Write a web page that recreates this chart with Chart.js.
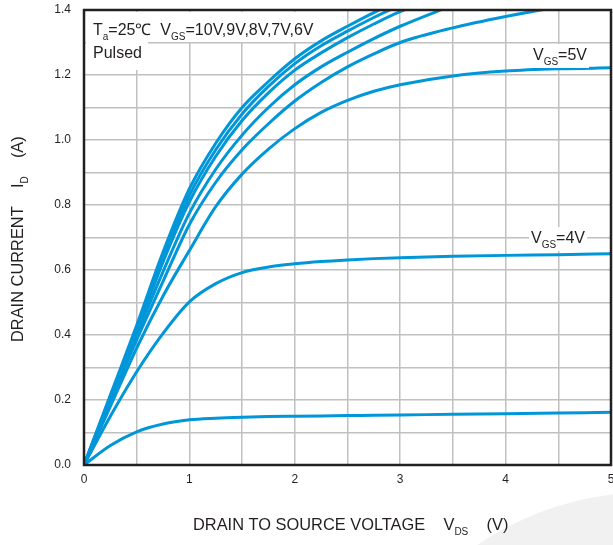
<!DOCTYPE html>
<html>
<head>
<meta charset="utf-8">
<script src="https://cdn.jsdelivr.net/npm/chart.js@4.4.1/dist/chart.umd.min.js"></script>
<style>
  html,body{margin:0;padding:0;background:#fff;}
  #wrap{width:613px;height:545px;position:relative;}
</style>
</head>
<body>
<div id="wrap"><canvas id="myChart" width="613" height="545"></canvas></div>
<script>
// drain voltage points (V)
const vds = [0, 0.25, 0.5, 0.75, 1, 1.25, 1.5, 1.75, 2, 2.25, 2.5, 2.75, 3, 3.5, 4, 4.5, 5];

// drain current (A) per gate voltage; curves above 1.4 run off the top
const id10 = [0, 0.215, 0.43, 0.655, 0.85, 0.99, 1.10, 1.18, 1.25, 1.305, 1.35, 1.392, 1.43];
const id9  = [0, 0.21, 0.42, 0.64, 0.83, 0.97, 1.08, 1.165, 1.235, 1.29, 1.335, 1.377, 1.415];
const id8  = [0, 0.205, 0.41, 0.625, 0.81, 0.95, 1.06, 1.145, 1.215, 1.268, 1.315, 1.357, 1.395, 1.45];
const id7  = [0, 0.20, 0.40, 0.595, 0.775, 0.91, 1.015, 1.10, 1.17, 1.225, 1.27, 1.312, 1.35, 1.415];
const id6  = [0, 0.195, 0.385, 0.565, 0.74, 0.87, 0.97, 1.05, 1.12, 1.177, 1.225, 1.265, 1.30, 1.345, 1.38, 1.41];
const id5  = [0, 0.18, 0.36, 0.52, 0.66, 0.795, 0.895, 0.972, 1.035, 1.085, 1.122, 1.15, 1.17, 1.197, 1.212, 1.219, 1.222];
const id4  = [0, 0.15, 0.287, 0.405, 0.502, 0.558, 0.592, 0.609, 0.619, 0.626, 0.631, 0.635, 0.638, 0.642, 0.645, 0.647, 0.65];
const id3  = [0, 0.06, 0.102, 0.126, 0.139, 0.144, 0.147, 0.149, 0.150, 0.151, 0.152, 0.153, 0.154, 0.156, 0.158, 0.160, 0.162];

const series = [id10, id9, id8, id7, id6, id5, id4, id3];

// texts: [text, subscript] pieces
const noteLine1 = [["T",""],["","a"],["=25\u2103  V",""],["","GS"],["=10V,9V,8V,7V,6V",""]];
const noteLine2 = [["Pulsed",""]];
const label5 = [["V",""],["","GS"],["=5V",""]];
const label4 = [["V",""],["","GS"],["=4V",""]];
const xTitle = [["DRAIN TO SOURCE VOLTAGE    V",""],["","DS"],["    (V)",""]];
const yTitle = [["DRAIN CURRENT    I",""],["","D"],["    (A)",""]];

const BLUE = '#0096d8';
const INK = '#231f20';
const FONT = '"Liberation Sans", Arial, sans-serif';

function toPts(arr){
    return arr.map((v,i)=>({x:vds[i],y:v}))
}

function richWidth(ctx, parts, size, subSize){
    let w=0
    for(const p of parts){
        ctx.font = size+'px '+FONT
        w+=ctx.measureText(p[0]).width
        ctx.font = subSize+'px '+FONT
        w+=ctx.measureText(p[1]).width
    }
    return w
}

function drawRich(ctx, parts, x, y, size, subSize, subDrop){
    ctx.textBaseline='alphabetic'
    ctx.textAlign='left'
    ctx.fillStyle=INK
    for(const p of parts){
        if(p[0]){
            ctx.font = size+'px '+FONT
            ctx.fillText(p[0],x,y)
            x+=ctx.measureText(p[0]).width
        }
        if(p[1]){
            ctx.font = subSize+'px '+FONT
            ctx.fillText(p[1],x,y+subDrop)
            x+=ctx.measureText(p[1]).width
        }
    }
}

function whiteBox(ctx,x,y,w,h){
    ctx.fillStyle='#fff'
    ctx.fillRect(x,y,w,h)
}

const decor = {
    id:'decor',
    beforeDraw(chart){
        const ctx=chart.ctx
        ctx.save()
        // faint watermark arc at bottom right
        ctx.fillStyle='#f1f1f1'
        ctx.beginPath()
        ctx.arc(650,800,308,0,Math.PI*2)
        ctx.fill()
        ctx.restore()
    },
    afterDraw(chart){
        const ctx=chart.ctx, a=chart.chartArea
        ctx.save()
        // frame
        ctx.strokeStyle=INK
        ctx.lineWidth=2.5
        ctx.strokeRect(a.left,a.top,a.right-a.left,a.bottom-a.top)

        // note at top-left
        let w1=richWidth(ctx,noteLine1,16,10)
        whiteBox(ctx,a.left+2,a.top+2,w1+10,30)
        whiteBox(ctx,a.left+2,a.top+2,62,58)
        drawRich(ctx,noteLine1,a.left+9,a.top+25,16,10,5)
        drawRich(ctx,noteLine2,a.left+9,a.top+48,16,10,5)

        // curve labels
        let w5=richWidth(ctx,label5,16,10)
        whiteBox(ctx,531,44,w5+4,24)
        drawRich(ctx,label5,533,60,16,10,5)
        let w4=richWidth(ctx,label4,16,10)
        whiteBox(ctx,529,227,w4+4,24)
        drawRich(ctx,label4,531,243,16,10,5)

        // axis titles
        drawRich(ctx,xTitle,193,530,16.4,10,5)
        ctx.translate(23,0)
        ctx.rotate(-Math.PI/2)
        drawRich(ctx,yTitle,-342,0,16.4,10,5)
        ctx.restore()
    }
};

const datasets = series.map(s=>({
    data:toPts(s),
    borderColor:BLUE,
    borderWidth:3,
    pointRadius:0,
    fill:false,
    cubicInterpolationMode:'monotone',
    clip:0
}))

new Chart(document.getElementById('myChart').getContext('2d'),{
    type:'line',
    data:{datasets:datasets},
    plugins:[decor],
    options:{
        responsive:false,
        animation:false,
        events:[],
        layout:{padding:{top:10,right:2,left:0,bottom:0}},
        plugins:{legend:{display:false},tooltip:{enabled:false}},
        scales:{
            x:{
                type:'linear',min:0,max:5,
                afterFit:s=>{s.height=80;s.paddingLeft=0;s.paddingRight=0},
                grid:{color:'#c0c0c0',lineWidth:1.5,drawTicks:false},
                border:{display:false},
                ticks:{
                    stepSize:0.5,padding:7,color:INK,
                    font:{family:FONT,size:12},
                    maxRotation:0,autoSkip:false,
                    callback:v=>Number.isInteger(v)?String(v):''
                }
            },
            y:{
                min:0,max:1.4,
                afterFit:s=>{s.width=84;s.paddingTop=0;s.paddingBottom=0},
                grid:{color:'#c0c0c0',lineWidth:1.5,drawTicks:false},
                border:{display:false},
                ticks:{
                    stepSize:0.1,padding:13,color:INK,autoSkip:false,
                    font:{family:FONT,size:12},
                    callback:v=>Math.round(v*10)%2===0?v.toFixed(1):''
                }
            }
        }
    }
})
</script>
</body>
</html>
